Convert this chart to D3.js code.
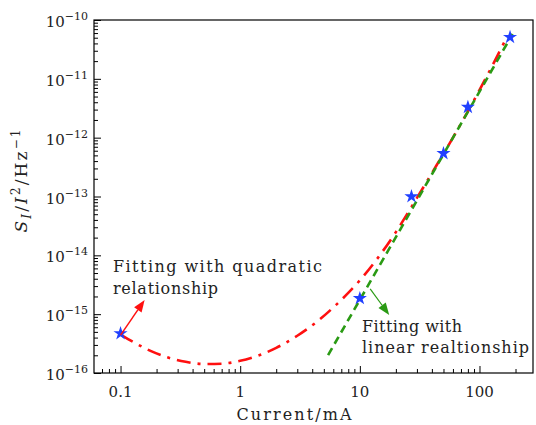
<!DOCTYPE html>
<meta charset="utf-8">
<style>
body { margin: 0; background: #fff; }
text { font-family: "DejaVu Serif", serif; fill: #222; }
.frame { fill: none; stroke: #000; stroke-width: 1.2px; }
.tick line { stroke: #000; stroke-width: 1px; }
</style>
<svg width="536" height="425"></svg>
<script src="https://cdn.jsdelivr.net/npm/d3@7"></script>
<script>

var svg = d3.select("svg");

// measured points (Current in mA, S_I/I^2 in 1/Hz)
var currents = [0.1, 10, 27, 50, 80, 180];
var noise = [4.7e-16, 1.86e-15, 1.0e-13, 5.4e-13, 3.3e-12, 5.1e-11];

// quadratic fit
var quadX = [0.1, 0.13, 0.18, 0.25, 0.35, 0.5, 0.7, 1.0, 1.4, 2.0, 3.0, 4.4, 6.0, 8.0, 10, 14, 20, 28, 40, 60, 80, 120, 170];
var quadY = [4.5e-16, 3.3e-16, 2.35e-16, 1.83e-16, 1.55e-16, 1.42e-16, 1.44e-16, 1.61e-16, 1.96e-16, 2.67e-16, 4.3e-16, 7.5e-16, 1.3e-15, 2.3e-15, 3.75e-15, 8.8e-15, 2.48e-14, 7.5e-14, 2.5e-13, 1.0e-12, 2.8e-12, 1.3e-11, 5.2e-11];

// linear fit (green), end points
var linX = [5.43, 189];
var linY = [2.02e-16, 5.78e-11];

var xTicks = [0.1, 1, 10, 100];
var xTickLabels = ["0.1", "1", "10", "100"];
var yTicks = [1e-16, 1e-15, 1e-14, 1e-13, 1e-12, 1e-11, 1e-10];
var yTickExp = ["−16", "−15", "−14", "−13", "−12", "−11", "−10"];

var x = d3.scaleLog().domain([0.06, 280]).range([94, 533]);
var y = d3.scaleLog().domain([1e-16, 1e-10]).range([373, 20]);

var xMinor = [], yMinor = [];
[0.01, 0.1, 1, 10, 100].forEach(function(d) {
  for (var k = 2; k < 10; k++) {
    var v = d * k;
    if (v > 0.06 && v < 280) xMinor.push(v);
  }
});
[1e-16, 1e-15, 1e-14, 1e-13, 1e-12, 1e-11].forEach(function(d) {
  for (var k = 2; k < 10; k++) yMinor.push(d * k);
});

// axes (inward ticks)
svg.append("g")
    .attr("transform", "translate(0,373)")
    .call(d3.axisBottom(x).tickValues(xMinor).tickSize(-4).tickFormat(""))
    .call(function(g) { g.select(".domain").remove(); });
svg.append("g")
    .attr("transform", "translate(0,373)")
    .call(d3.axisBottom(x).tickValues(xTicks).tickSize(-7).tickFormat(""))
    .call(function(g) { g.select(".domain").remove(); });
svg.append("g")
    .attr("transform", "translate(94,0)")
    .call(d3.axisLeft(y).tickValues(yMinor).tickSize(-4).tickFormat(""))
    .call(function(g) { g.select(".domain").remove(); });
svg.append("g")
    .attr("transform", "translate(94,0)")
    .call(d3.axisLeft(y).tickValues(yTicks).tickSize(-7).tickFormat(""))
    .call(function(g) { g.select(".domain").remove(); });

svg.append("rect")
    .attr("class", "frame")
    .attr("x", x.range()[0])
    .attr("y", y.range()[1])
    .attr("width", x.range()[1] - x.range()[0])
    .attr("height", y.range()[0] - y.range()[1]);

// tick labels
svg.selectAll(".xlab")
    .data(xTicks)
  .enter().append("text")
    .attr("x", function(d) { return x(d); })
    .attr("y", 397)
    .attr("text-anchor", "middle")
    .style("font-size", "15px")
    .text(function(d, i) { return xTickLabels[i]; });

var ylab = svg.selectAll(".ylab")
    .data(yTicks)
  .enter().append("text")
    .attr("x", 88)
    .attr("y", function(d) { return y(d) + 7; })
    .attr("text-anchor", "end")
    .style("font-size", "15px");
ylab.append("tspan").text("10");
ylab.append("tspan")
    .attr("dy", -7)
    .style("font-size", "11px")
    .text(function(d, i) { return yTickExp[i]; });

svg.append("text")
    .attr("x", 294)
    .attr("y", 420)
    .attr("text-anchor", "middle")
    .attr("textLength", 115)
    .attr("lengthAdjust", "spacing")
    .style("font-size", "16px")
    .text("Current/mA");

var yt = svg.append("text")
    .attr("transform", "translate(27,181) rotate(-90)")
    .attr("text-anchor", "middle")
    .attr("textLength", 103)
    .attr("lengthAdjust", "spacing")
    .style("font-size", "17px");
yt.append("tspan").style("font-style", "italic").text("S");
yt.append("tspan").attr("dy", 4).style("font-style", "italic").style("font-size", "12px").text("I");
yt.append("tspan").attr("dy", -4).text("/");
yt.append("tspan").style("font-style", "italic").text("I");
yt.append("tspan").attr("dy", -7).style("font-size", "12px").text("2");
yt.append("tspan").attr("dy", 7).text("/Hz");
yt.append("tspan").attr("dy", -7).style("font-size", "12px").text("−1");

// fits
var line = d3.line()
    .x(function(d) { return x(d[0]); })
    .y(function(d) { return y(d[1]); })
    .curve(d3.curveMonotoneX);

svg.append("path")
    .datum(d3.zip(quadX, quadY))
    .attr("d", line)
    .attr("fill", "none")
    .attr("stroke", "#ff1010")
    .attr("stroke-width", 2.6)
    .attr("stroke-dasharray", "14,7,3,7");

svg.append("path")
    .datum(d3.zip(linX, linY))
    .attr("d", line)
    .attr("fill", "none")
    .attr("stroke", "#2a9a14")
    .attr("stroke-width", 2.6)
    .attr("stroke-dasharray", "8,5");

// data points
svg.selectAll(".pt")
    .data(d3.zip(currents, noise))
  .enter().append("path")
    .attr("transform", function(d) { return "translate(" + x(d[0]) + "," + y(d[1]) + ")"; })
    .attr("d", d3.symbol().type(d3.symbolStar).size(62))
    .attr("fill", "#2040ff");

// annotations
function arrow(from, to, color, w) {
  var x1 = x(from[0]), y1 = y(from[1]), x2 = x(to[0]), y2 = y(to[1]);
  var a = Math.atan2(y2 - y1, x2 - x1), len = 12, hw = 4.5;
  var bx = x2 - len * Math.cos(a), by = y2 - len * Math.sin(a);
  svg.append("line")
      .attr("x1", x1).attr("y1", y1).attr("x2", bx).attr("y2", by)
      .attr("stroke", color).attr("stroke-width", w);
  svg.append("path")
      .attr("d", "M" + x2 + "," + y2 +
                 "L" + (bx + hw * Math.sin(a)) + "," + (by - hw * Math.cos(a)) +
                 "L" + (bx - hw * Math.sin(a)) + "," + (by + hw * Math.cos(a)) + "Z")
      .attr("fill", color);
}
arrow([0.1, 4.4e-16], [0.159, 1.74e-15], "#ff1010", 1.5);
arrow([12.2, 2.68e-15], [17.6, 9.7e-16], "#2a9a14", 1.2);

var notes = [
  {text: "Fitting with quadratic", x: 113, y: 272, w: 209},
  {text: "relationship", x: 113, y: 294, w: 105},
  {text: "Fitting with", x: 362, y: 332, w: 100},
  {text: "linear realtionship", x: 362, y: 353, w: 167}
];
svg.selectAll(".note")
    .data(notes)
  .enter().append("text")
    .attr("x", function(d) { return d.x; })
    .attr("y", function(d) { return d.y; })
    .attr("textLength", function(d) { return d.w; })
    .attr("lengthAdjust", "spacing")
    .style("font-size", "16px")
    .text(function(d) { return d.text; });

</script>
